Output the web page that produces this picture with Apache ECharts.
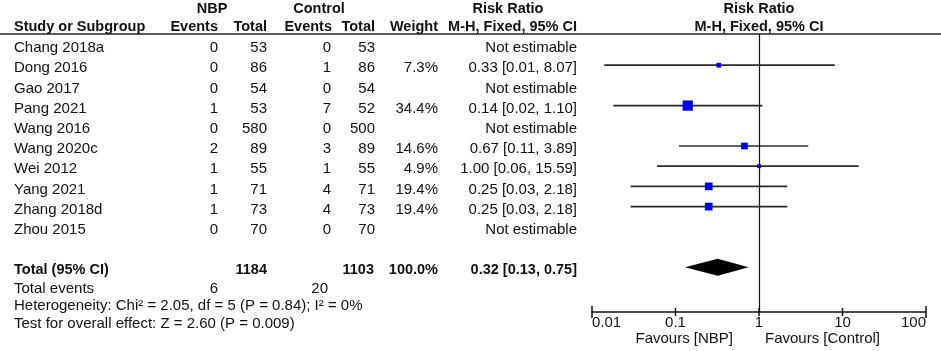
<!DOCTYPE html>
<html>
<head>
<meta charset="utf-8">
<script src="https://cdn.jsdelivr.net/npm/echarts@6/dist/echarts.min.js"></script>
<style>
  html, body { margin: 0; padding: 0; background: #fff; }
  #forest { width: 941px; height: 351px; }
</style>
</head>
<body>
<div id="forest"></div>
<script>
// study rows
const studies = ['Chang 2018a', 'Dong 2016', 'Gao 2017', 'Pang 2021', 'Wang 2016',
    'Wang 2020c', 'Wei 2012', 'Yang 2021', 'Zhang 2018d', 'Zhou 2015'];
const nbpEvents = [0, 0, 0, 1, 0, 2, 1, 1, 1, 0];
const nbpTotal = [53, 86, 54, 53, 580, 89, 55, 71, 73, 70];
const ctlEvents = [0, 1, 0, 7, 0, 3, 1, 4, 4, 0];
const ctlTotal = [53, 86, 54, 52, 500, 89, 55, 71, 73, 70];
const weightText = ['', '7.3%', '', '34.4%', '', '14.6%', '4.9%', '19.4%', '19.4%', ''];
const ciText = ['Not estimable', '0.33 [0.01, 8.07]', 'Not estimable', '0.14 [0.02, 1.10]',
    'Not estimable', '0.67 [0.11, 3.89]', '1.00 [0.06, 15.59]', '0.25 [0.03, 2.18]',
    '0.25 [0.03, 2.18]', 'Not estimable'];

// plotted estimates (null = not estimable)
const weights = [null, 7.3, null, 34.4, null, 14.6, 4.9, 19.4, 19.4, null];
const rr = [null, 0.33, null, 0.14, null, 0.67, 1.00, 0.25, 0.25, null];
const ciLow = [null, 0.014, null, 0.018, null, 0.11, 0.06, 0.029, 0.029, null];
const ciHigh = [null, 8.07, null, 1.10, null, 3.89, 15.59, 2.18, 2.18, null];

// pooled
const totalRow = 11;
const totalLabels = ['Total (95% CI)', '1184', '1103', '100.0%', '0.32 [0.13, 0.75]'];
const pooled = [0.32, 0.13, 0.75];
const totalEvents = [6, 20];
const heterogeneity = 'Heterogeneity: Chi\u00b2 = 2.05, df = 5 (P = 0.84); I\u00b2 = 0%';
const overallEffect = 'Test for overall effect: Z = 2.60 (P = 0.009)';
const favours = ['Favours [NBP]', 'Favours [Control]'];
const axisTicks = [0.01, 0.1, 1, 10, 100];

const FONT = '"Liberation Sans", Arial, sans-serif';
const chart = echarts.init(document.getElementById('forest'));

const studyData = [];
rr.forEach((v, i) => {
    if (v != null) studyData.push([i, v, ciLow[i], ciHigh[i], weights[i]]);
});

chart.setOption({
    animation: false,
    backgroundColor: '#fff',
    grid: {
        left: 592, right: 15, top: 34, bottom: 39,
        outerBoundsMode: 'none'
    },
    xAxis: {
        type: 'log', logBase: 10, min: 0.01, max: 100,
        position: 'bottom',
        splitLine: { show: false },
        axisLine: { onZero: false, lineStyle: { color: '#111', width: 1.5 } },
        axisTick: { show: false },
        axisLabel: {
            color: '#111', fontFamily: FONT, fontSize: 15, margin: 3,
            alignMinLabel: 'left', alignMaxLabel: 'right',
            formatter: v => String(+v.toPrecision(3))
        }
    },
    yAxis: {
        type: 'value', inverse: true, min: -0.545, max: 13.22,
        show: false
    },
    series: [
        {
            type: 'custom',
            data: studyData,
            encode: { x: [1, 2, 3], y: 0 },
            renderItem(params, api) {
                const y = api.value(0);
                const p = api.coord([api.value(1), y]);
                const l = api.coord([api.value(2), y]);
                const h = api.coord([api.value(3), y]);
                const s = 1.75 * Math.sqrt(api.value(4));
                return {
                    type: 'group',
                    children: [
                        { type: 'line', shape: { x1: l[0], y1: l[1], x2: h[0], y2: h[1] },
                          style: { stroke: '#2a2a2a', lineWidth: 1.7 } },
                        { type: 'rect', shape: { x: p[0] - s / 2, y: p[1] - s / 2, width: s, height: s },
                          style: { fill: '#0000f0' } }
                    ]
                };
            },
            markLine: {
                silent: true, symbol: 'none', label: { show: false },
                lineStyle: { color: '#111', width: 1.2, type: 'solid' },
                data: [{ xAxis: 1 }]
            }
        },
        {
            type: 'custom',
            data: [[totalRow, pooled[0], pooled[1], pooled[2]]],
            encode: { x: [1, 2, 3], y: 0 },
            renderItem(params, api) {
                const y = api.value(0);
                const p = api.coord([api.value(1), y]);
                const l = api.coord([api.value(2), y]);
                const h = api.coord([api.value(3), y]);
                return {
                    type: 'polygon',
                    shape: { points: [[l[0], p[1]], [p[0], p[1] - 8.5], [h[0], p[1]], [p[0], p[1] + 8.5]] },
                    style: { fill: '#000' }
                };
            }
        },
        {
            // axis ticks crossing the line, longer at the ends
            type: 'custom',
            data: axisTicks.map((v, i) => [v, i === 0 || i === axisTicks.length - 1 ? 6 : 4]),
            encode: { x: 0 },
            silent: true,
            renderItem(params, api) {
                const x = api.coord([api.value(0), 13.22])[0];
                const yb = params.coordSys.y + params.coordSys.height;
                const len = api.value(1);
                return {
                    type: 'line',
                    shape: { x1: x, y1: yb - len, x2: x, y2: yb + len },
                    style: { stroke: '#111', lineWidth: 1.5 }
                };
            }
        }
    ]
});

// table text
const col = { study: 14, nbpEv: 218, nbpTot: 267, ctlEv: 331, ctlTot: 375, weight: 438, ci: 577 };
const rowY = i => chart.convertToPixel({ gridIndex: 0 }, [1, i])[1] + 3;

function txt(text, x, y, align, bold) {
    return {
        type: 'text', x: x, y: y, silent: true,
        style: {
            text: text, fill: '#111', align: align, verticalAlign: 'middle',
            font: (bold ? 'bold 14.5px ' : '15px ') + FONT
        }
    };
}

const g = [];
// header
g.push(txt('NBP', 212, 9, 'center', true));
g.push(txt('Control', 319, 9, 'center', true));
g.push(txt('Risk Ratio', 508, 9, 'center', true));
g.push(txt('Risk Ratio', 759, 9, 'center', true));
g.push(txt('Study or Subgroup', col.study, 27, 'left', true));
g.push(txt('Events', col.nbpEv, 27, 'right', true));
g.push(txt('Total', col.nbpTot, 27, 'right', true));
g.push(txt('Events', col.ctlEv + 1, 27, 'right', true));
g.push(txt('Total', col.ctlTot, 27, 'right', true));
g.push(txt('Weight', col.weight, 27, 'right', true));
g.push(txt('M-H, Fixed, 95% CI', col.ci, 27, 'right', true));
g.push(txt('M-H, Fixed, 95% CI', 759, 27, 'center', true));
g.push({
    type: 'line', silent: true,
    shape: { x1: 0, y1: 34, x2: 941, y2: 34 },
    style: { stroke: '#222', lineWidth: 1.5 }
});

studies.forEach((s, i) => {
    const y = rowY(i);
    g.push(txt(s, col.study, y, 'left'));
    g.push(txt(String(nbpEvents[i]), col.nbpEv, y, 'right'));
    g.push(txt(String(nbpTotal[i]), col.nbpTot, y, 'right'));
    g.push(txt(String(ctlEvents[i]), col.ctlEv, y, 'right'));
    g.push(txt(String(ctlTotal[i]), col.ctlTot, y, 'right'));
    g.push(txt(weightText[i], col.weight, y, 'right'));
    g.push(txt(ciText[i], col.ci, y, 'right'));
});

const ty = rowY(totalRow);
g.push(txt(totalLabels[0], col.study, ty, 'left', true));
g.push(txt(totalLabels[1], col.nbpTot, ty, 'right', true));
g.push(txt(totalLabels[2], col.ctlTot - 1, ty, 'right', true));
g.push(txt(totalLabels[3], col.weight, ty, 'right', true));
g.push(txt(totalLabels[4], col.ci, ty, 'right', true));

g.push(txt('Total events', col.study, 289, 'left'));
g.push(txt(String(totalEvents[0]), col.nbpEv, 289, 'right'));
g.push(txt(String(totalEvents[1]), col.ctlEv - 3, 289, 'right'));
g.push(txt(heterogeneity, col.study, 306, 'left'));
g.push(txt(overallEffect, col.study, 324, 'left'));

const oneX = chart.convertToPixel({ gridIndex: 0 }, [1, 0])[0];
g.push(txt(favours[0], oneX - 26, 339, 'right'));
g.push(txt(favours[1], oneX + 6, 339, 'left'));

chart.setOption({ graphic: g });
</script>
</body>
</html>
